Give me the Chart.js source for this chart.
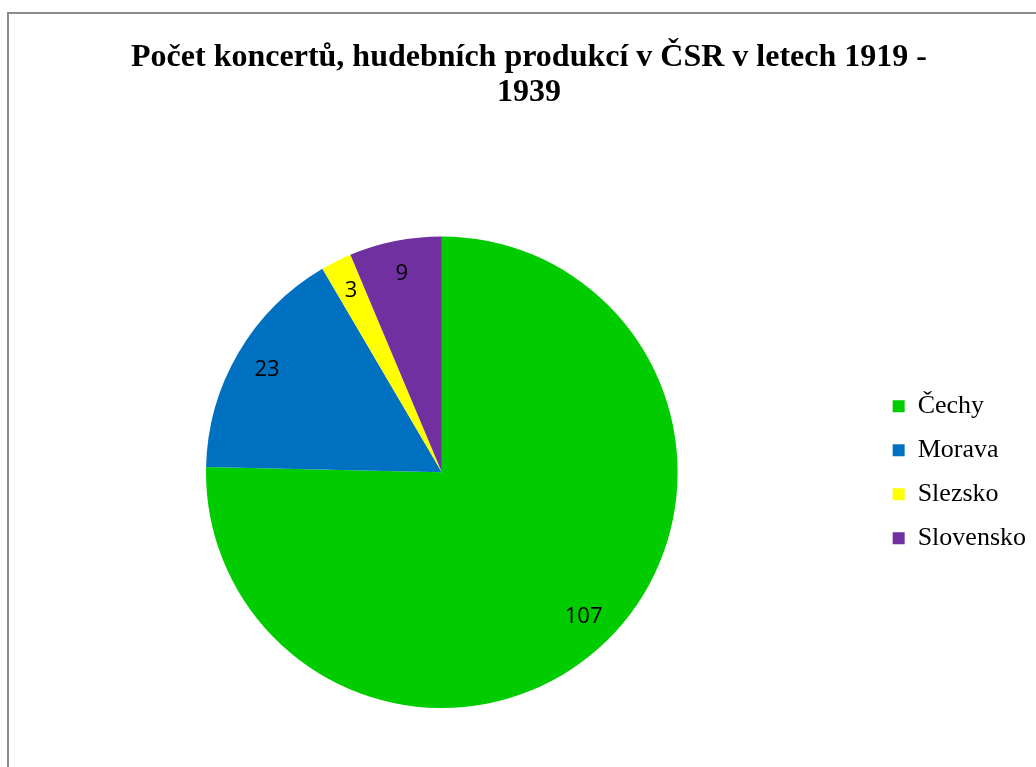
<!DOCTYPE html>
<html>
<head>
<meta charset="utf-8">
<script src="https://cdn.jsdelivr.net/npm/chart.js@4.4.0/dist/chart.umd.min.js"></script>
<style>
  html, body { margin: 0; padding: 0; background: #fff; overflow: hidden; }
  #frame {
    position: absolute; left: 7px; top: 12px;
    width: 1044px; height: 760px;
    border-left: 2px solid #8c8c8c; border-top: 2px solid #8c8c8c;
  }
  #frame canvas { display: block; }
</style>
</head>
<body>
<div id="frame"><canvas id="pieChart" width="1044" height="753"></canvas></div>
<script>
  // regions and concert counts
  const regions = ['Čechy', 'Morava', 'Slezsko', 'Slovensko'];
  const counts = [107, 23, 3, 9];
  const sliceColors = ['#00CC00', '#0070C0', '#FFFF00', '#7030A0'];
  const titleLines = ['Počet koncertů, hudebních produkcí v ČSR v letech 1919 -', '1939'];

  // value labels drawn inside each slice
  const sliceLabels = {
    id: 'sliceLabels',
    afterDatasetsDraw(chart) {
      const ctx = chart.ctx;
      const meta = chart.getDatasetMeta(0);
      ctx.save();
      ctx.font = '22px "Open Sans", sans-serif';
      ctx.fillStyle = '#000';
      ctx.textAlign = 'center';
      ctx.textBaseline = 'middle';
      meta.data.forEach(function(arc, i) {
        const p = arc.getProps(['x', 'y', 'startAngle', 'endAngle', 'outerRadius'], true);
        const mid = (p.startAngle + p.endAngle) / 2;
        const r = p.outerRadius * 0.86;
        ctx.fillText(String(counts[i]), p.x + Math.cos(mid) * r, p.y + Math.sin(mid) * r);
      });
      ctx.restore();
    }
  };

  const ctxPie = document.getElementById('pieChart').getContext('2d');
  const pieChart = new Chart(ctxPie, {
    type: 'pie',
    data: {
      labels: regions,
      datasets: [{
        data: counts,
        backgroundColor: sliceColors,
        borderWidth: 0
      }]
    },
    options: {
      responsive: false,
      animation: false,
      layout: { padding: { top: 10, bottom: 59, left: 0, right: 4 } },
      plugins: {
        title: {
          display: true,
          text: titleLines,
          color: '#000',
          font: { family: '"Liberation Serif", "Times New Roman", serif', size: 32, weight: 'bold', lineHeight: 1.1 },
          padding: { top: 16, bottom: 126 }
        },
        legend: {
          position: 'right',
          fullSize: false,
          labels: {
            color: '#000',
            boxWidth: 12,
            boxHeight: 12,
            padding: 18,
            font: { family: '"Liberation Serif", "Times New Roman", serif', size: 26 },
            // a little trailing room so the legend sits where the original one does
            generateLabels: function(chart) {
              const items = Chart.overrides.pie.plugins.legend.labels.generateLabels(chart);
              items.forEach(function(item) { item.text = item.text + '\u2002'; });
              return items;
            }
          }
        },
        tooltip: { enabled: false }
      }
    },
    plugins: [sliceLabels]
  });
</script>
</body>
</html>
